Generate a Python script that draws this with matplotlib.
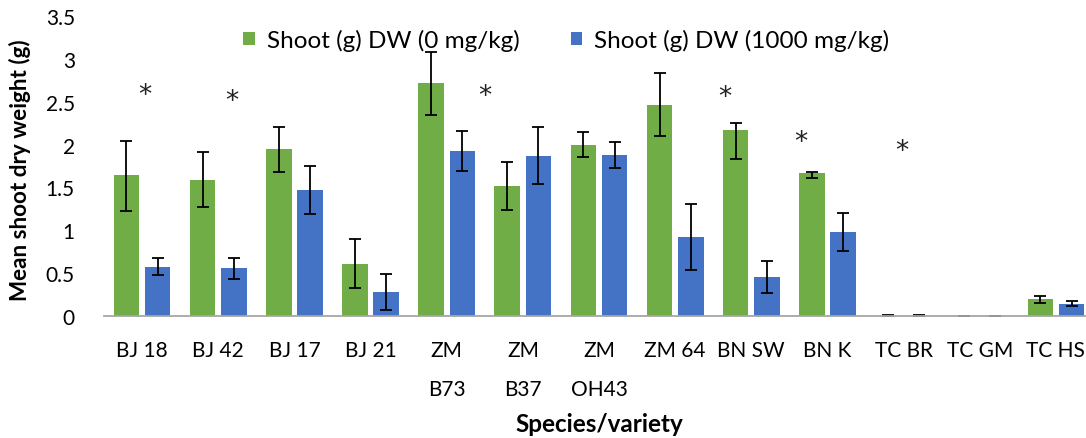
import matplotlib
matplotlib.use('Agg')
import matplotlib.pyplot as plt
import numpy as np

plt.rcParams['font.family'] = ['Lato', 'DejaVu Sans']

# species / variety and shoot dry weight (g)
labels = ['BJ 18', 'BJ 42', 'BJ 17', 'BJ 21', 'ZM\nB73', 'ZM\nB37', 'ZM\nOH43',
          'ZM 64', 'BN SW', 'BN K', 'TC BR', 'TC GM', 'TC HS']
dw0 = [1.64, 1.59, 1.945, 0.61, 2.715, 1.52, 2.0, 2.465, 2.17, 1.665, 0.004, 0.003, 0.195]
dw1000 = [0.577, 0.557, 1.465, 0.285, 1.925, 1.87, 1.875, 0.927, 0.456, 0.978, 0.004, 0.003, 0.145]
err0_lo = [0.41, 0.32, 0.265, 0.285, 0.37, 0.28, 0.145, 0.365, 0.34, 0.05, 0.002, 0.002, 0.04]
err0_hi = [0.40, 0.32, 0.265, 0.285, 0.37, 0.28, 0.145, 0.365, 0.085, 0.02, 0.002, 0.002, 0.04]
err1000 = [0.10, 0.12, 0.28, 0.21, 0.23, 0.33, 0.15, 0.385, 0.185, 0.22, 0.002, 0.002, 0.03]

# significance markers (category position, height)
star_x = [0.03, 1.18, 4.5, 7.65, 8.65, 9.98]
star_y = [2.58, 2.51, 2.57, 2.55, 2.03, 1.92]

green = '#70AD47'
blue = '#4472C4'

fig = plt.figure(figsize=(10.86, 4.39), dpi=100)
ax = fig.add_axes([104/1086, 122/439, 990/1086, 300/439])

x = np.arange(len(labels))
w = 0.335
ekw = dict(ecolor='black', elinewidth=1.3, capsize=4.5, capthick=1.3)
ax.bar(x - 0.205, dw0, w, color=green, yerr=[err0_lo, err0_hi], error_kw=ekw,
       label='Shoot (g) DW (0 mg/kg)')
ax.bar(x + 0.205, dw1000, w, color=blue, yerr=err1000, error_kw=ekw,
       label='Shoot (g) DW (1000 mg/kg)')

for sx, sy in zip(star_x, star_y):
    ax.text(sx, sy, '*', ha='center', va='center', fontsize=19,
            family='DejaVu Sans', color='#222222')

ax.set_xlim(-0.5, 12.5)
ax.set_ylim(0, 3.5)
ax.set_yticks(np.arange(0, 3.51, 0.5))
ax.set_yticklabels(['0', '0.5', '1', '1.5', '2', '2.5', '3', '3.5'])
ax.set_xticks(x)
ax.set_xticklabels(labels, linespacing=2.2)
ax.tick_params(axis='both', length=0, labelsize=15, colors='black')
ax.tick_params(axis='x', pad=17)
ax.tick_params(axis='y', pad=21)

for s in ['top', 'right', 'left']:
    ax.spines[s].set_visible(False)
ax.spines['bottom'].set_color('#A6A6A6')
ax.spines['bottom'].set_linewidth(1.3)

ax.set_ylabel('Mean shoot dry weight (g)', fontsize=16.2, fontweight='bold', va='center')
ax.yaxis.set_label_coords(-0.085, 0.49)
ax.set_xlabel('Species/variety', fontsize=17.5, fontweight='bold', va='center')
ax.xaxis.set_label_coords(0.5, -0.357)

fig.legend(loc='center', bbox_to_anchor=(566.5/1086, 1 - 41/439), ncol=2,
           frameon=False, fontsize=17.5, handlelength=0.47, handleheight=0.47,
           handletextpad=0.5, columnspacing=2.1)

plt.savefig('out.png', dpi=100)
